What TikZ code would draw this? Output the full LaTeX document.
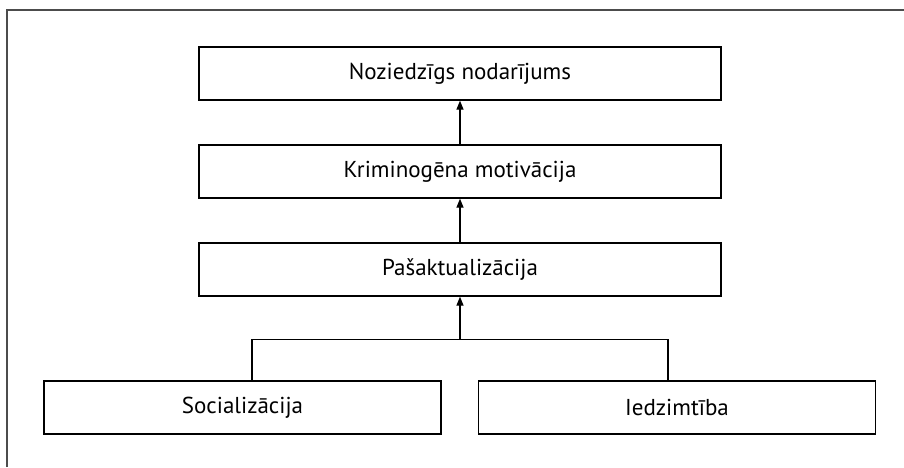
\documentclass[tikz,border=0pt]{standalone}
\usepackage{fontspec}
\setmainfont{PT Sans}
\usetikzlibrary{arrows.meta}
\begin{document}
\begin{tikzpicture}[x=1pt, y=-1pt, line width=1.3pt,
    box/.style={draw, rectangle, minimum width=522pt, minimum height=53pt, inner sep=0pt, font=\fontsize{23}{26}\selectfont},
    smallbox/.style={box, minimum width=397pt},
    arr/.style={-{Triangle[length=9pt,width=7pt]}}]
          \useasboundingbox (0,0) rectangle (904,467);
          \draw [black!70] (7,467) -- (7,10) -- (904,10);
          \node [box] (nod) at (460,73.5) {Noziedzīgs nodarījums};
          \node [box] (mot) at (460,171.5) {Kriminogēna motivācija};
          \node [box] (pas) at (460,269.5) {Pašaktualizācija};
          \node [smallbox] (soc) at (242.5,407.5) {Socializācija};
          \node [smallbox] (ied) at (677,407.5) {Iedzimtība};
          \coordinate (jl) at (252,339.5);
          \coordinate (jr) at (668,339.5);
          \coordinate (jm) at (460,339.5);
          \draw [arr] (mot) -- (nod);
          \draw [arr] (pas) -- (mot);
          \draw (jl |- soc.north) -- (jl) -- (jr) -- (jr |- ied.north);
          \draw [arr] (jm) -- (pas);
        \end{tikzpicture}
\end{document}
